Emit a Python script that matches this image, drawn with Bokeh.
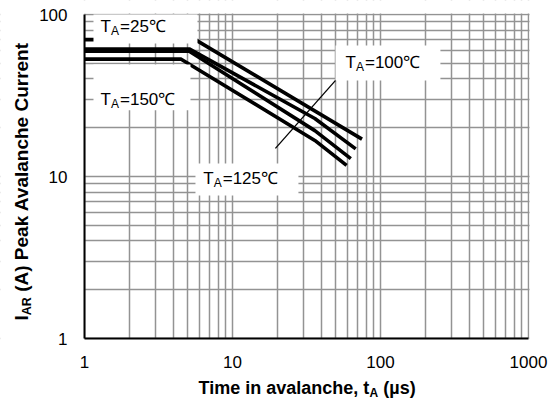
from bokeh.plotting import figure
from bokeh.models import Label, BoxAnnotation, FixedTicker, LogAxis, Grid
from bokeh.embed import file_html
from bokeh.resources import INLINE
import math

# ---- data ----
t_25 = [1, 5.6, 75]
i_25 = [70, 70, 17]
t_100 = [1, 5.1, 36, 68]
i_100 = [61.3, 61.3, 22.8, 14.8]
t_125 = [1, 5.1, 36, 63]
i_125 = [59.3, 59.3, 19.2, 12.9]
t_150 = [1, 4.5, 36, 59]
i_150 = [53, 53, 16.7, 11.7]

x_major = [1, 10, 100, 1000]
y_major = [1, 10, 100]
x_minor = [m * 10 ** k for k in range(3) for m in range(2, 10)]
y_minor = [m * 10 ** k for k in range(2) for m in range(2, 10)]
x_labels = {1: "1", 10: "10", 100: "100", 1000: "1000"}
y_labels = {1: "1", 10: "10", 100: "100"}

FONT = "Liberation Sans"
GRID = "#939393"

# The frame spans the whole canvas; the ranges include the margins so that
# every text can be drawn inside it. The axes sit at the data edges.
W, H = 548, 404
L, R, T, B = 84, 528, 14, 338
dx_dec = (R - L) / 3.0
dy_dec = (B - T) / 2.0
x_range = (10 ** (-L / dx_dec), 10 ** (3 + (W - R) / dx_dec))
y_range = (10 ** (-(H - B) / dy_dec), 10 ** (2 + T / dy_dec))

p = figure(width=W, height=H, x_axis_type="log", y_axis_type="log",
           x_axis_location=None, y_axis_location=None,
           x_range=x_range, y_range=y_range,
           output_backend="svg", toolbar_location=None,
           min_border=0, min_border_left=0, min_border_right=0,
           min_border_top=0, min_border_bottom=0)
p.background_fill_color = "white"
p.border_fill_color = "white"
p.outline_line_color = None
p.center = []

xt = FixedTicker(ticks=x_major, minor_ticks=x_minor)
yt = FixedTicker(ticks=y_major, minor_ticks=y_minor)

xgrid = Grid(dimension=0, ticker=xt, bounds=(1, 1000),
             grid_line_color=GRID, grid_line_width=1.5,
             minor_grid_line_color=GRID, minor_grid_line_width=1.5)
ygrid = Grid(dimension=1, ticker=yt, bounds=(1, 100),
             grid_line_color=GRID, grid_line_width=1.5,
             minor_grid_line_color=GRID, minor_grid_line_width=1.5)
p.add_layout(xgrid)
p.add_layout(ygrid)

# white margins hiding grid lines outside the plotting area
px_x = 10 ** (1 / dx_dec)
px_y = 10 ** (1 / dy_dec)
for kw in (dict(right=1), dict(left=1000 * px_x), dict(bottom=100 * px_y),
           dict(top=1)):
    p.add_layout(BoxAnnotation(fill_color="white", fill_alpha=1,
                               line_color=None, level="underlay", **kw))

xaxis = LogAxis(ticker=xt, fixed_location=1, bounds=(1, 1000))
yaxis = LogAxis(ticker=yt, fixed_location=1, bounds=(1, 100))
xaxis.major_label_overrides = x_labels
yaxis.major_label_overrides = y_labels
for ax in (xaxis, yaxis):
    ax.axis_line_color = "black"
    ax.axis_line_width = 2
    ax.major_tick_in = 0
    ax.major_tick_out = 0
    ax.minor_tick_in = 0
    ax.minor_tick_out = 0
    ax.major_label_text_font = FONT
    ax.major_label_text_font_size = "17px"
    ax.major_label_text_color = "black"
xaxis.major_label_standoff = 17
yaxis.major_label_standoff = 17
p.add_layout(xaxis, "below")
p.add_layout(yaxis, "left")

# leader line (under the curves)
p.line([49.7, 19.5], [39.2, 14.9], line_color="black", line_width=1.3)

for tx, iy in ((t_25, i_25), (t_100, i_100), (t_125, i_125), (t_150, i_150)):
    p.line(tx, iy, line_color="black", line_width=3.6, line_join="round")

# white label boxes
for l, r, b, t in ((1.15, 5.8, 66.2, 100), (1.15, 5.2, 25.6, 49.1),
                   (49.7, 254, 39.2, 64.4), (5.62, 27.9, 7.63, 12.03)):
    p.add_layout(BoxAnnotation(left=l, right=r, bottom=b, top=t,
                               fill_color="white", fill_alpha=1,
                               line_color=None))

SHIFT = 0.36  # baseline correction (fraction of the font size)


def add_text(x, y, text, size, dx=0, dy=0, bold=False, vertical=False):
    if vertical:
        dx -= SHIFT * size
    else:
        dy += SHIFT * size
    p.add_layout(Label(x=x, y=y, text=text, x_offset=dx, y_offset=dy,
                       text_font=FONT, text_font_size=f"{size}px",
                       text_font_style="bold" if bold else "normal",
                       text_baseline="alphabetic", text_align="left",
                       text_color="black",
                       angle=math.pi / 2 if vertical else 0))


def temp_label(x, y, rest):
    add_text(x, y, "T", 17)
    add_text(x, y, "A", 12, dx=10.5, dy=-3)
    add_text(x, y, rest, 17, dx=19.5)


temp_label(1.283, 77.5, "=25\u2103")
temp_label(1.283, 27.4, "=150\u2103")
temp_label(58.0, 46.4, "=100\u2103")
temp_label(6.34, 8.93, "=125\u2103")

# x axis title, anchored at the plotting area's lower-left corner
add_text(1, 1, "Time in avalanche, t", 18, dx=114, dy=-56, bold=True)
add_text(1, 1, "A", 12, dx=285.1, dy=-59, bold=True)
add_text(1, 1, "(\u00b5s)", 18, dx=298.8, dy=-56, bold=True)

# y axis title (rotated)
add_text(1, 1, "I", 19, dx=-56, dy=18, bold=True, vertical=True)
add_text(1, 1, "AR", 12.5, dx=-53, dy=23.3, bold=True, vertical=True)
add_text(1, 1, "(A) Peak Avalanche Current", 19, dx=-56, dy=46.7,
         bold=True, vertical=True)

open("out.html", "w").write(file_html(p, INLINE))
